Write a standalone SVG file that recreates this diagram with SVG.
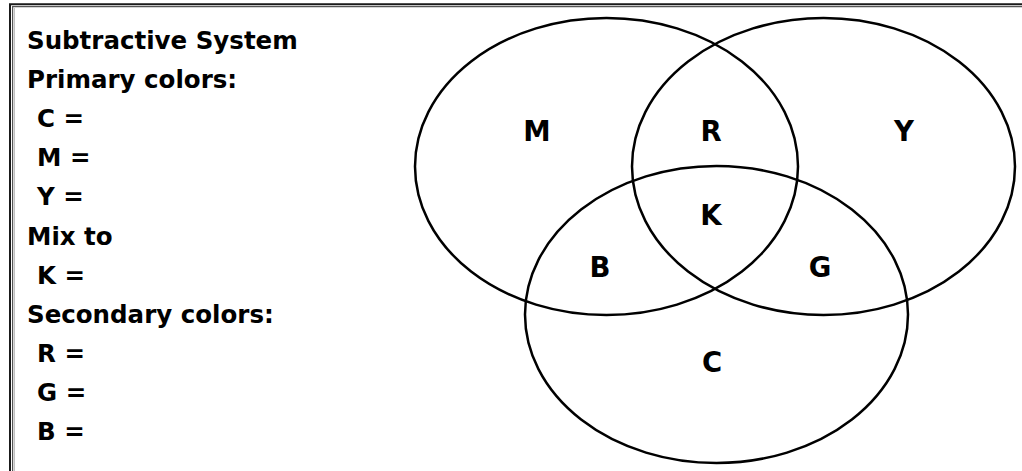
<svg xmlns="http://www.w3.org/2000/svg" width="1022" height="471" viewBox="0 0 1022 471">
  <style>
    .t { font-family: "DejaVu Sans", "Liberation Sans", sans-serif; font-weight: bold; font-size: 24.5px; fill: #000; }
    .lbl { font-family: "DejaVu Sans", "Liberation Sans", sans-serif; font-weight: bold; font-size: 27.5px; fill: #000; text-anchor: middle; }
    .set { fill: none; stroke: #000; stroke-width: 2.5; }
  </style>
  <rect x="0" y="0" width="1022" height="471" fill="#fff"/>
  <g id="frame" fill="none">
    <path d="M10,471 V4.2 H1022" stroke="#1a1a1a" stroke-width="2"/>
    <path d="M12.6,471 V6.6 H1022" stroke="#555" stroke-width="1.2"/>
    <path d="M14.4,471 V8" stroke="#bbb" stroke-width="1"/>
  </g>
  <g id="legend">
    <text class="t" x="27" y="49">Subtractive System</text>
    <text class="t" x="27" y="88">Primary colors:</text>
    <text class="t" x="37" y="127">C =</text>
    <text class="t" x="37" y="166">M =</text>
    <text class="t" x="37" y="205">Y =</text>
    <text class="t" x="27" y="245">Mix to</text>
    <text class="t" x="37" y="284">K =</text>
    <text class="t" x="27" y="323">Secondary colors:</text>
    <text class="t" x="37" y="362">R =</text>
    <text class="t" x="37" y="401">G =</text>
    <text class="t" x="37" y="440">B =</text>
  </g>
  <g id="set-M">
    <ellipse class="set" cx="606.5" cy="166.5" rx="191.5" ry="148.5"/>
  </g>
  <g id="set-Y">
    <ellipse class="set" cx="823.5" cy="166.5" rx="191.5" ry="148.5"/>
  </g>
  <g id="set-C">
    <ellipse class="set" cx="716.5" cy="314.5" rx="191.5" ry="148.5"/>
  </g>
  <g id="labels">
    <text class="lbl" x="537" y="141">M</text>
    <text class="lbl" x="711" y="141">R</text>
    <text class="lbl" x="904" y="141">Y</text>
    <text class="lbl" x="711" y="225">K</text>
    <text class="lbl" x="600" y="277">B</text>
    <text class="lbl" x="820" y="277">G</text>
    <text class="lbl" x="712" y="372">C</text>
  </g>
</svg>
